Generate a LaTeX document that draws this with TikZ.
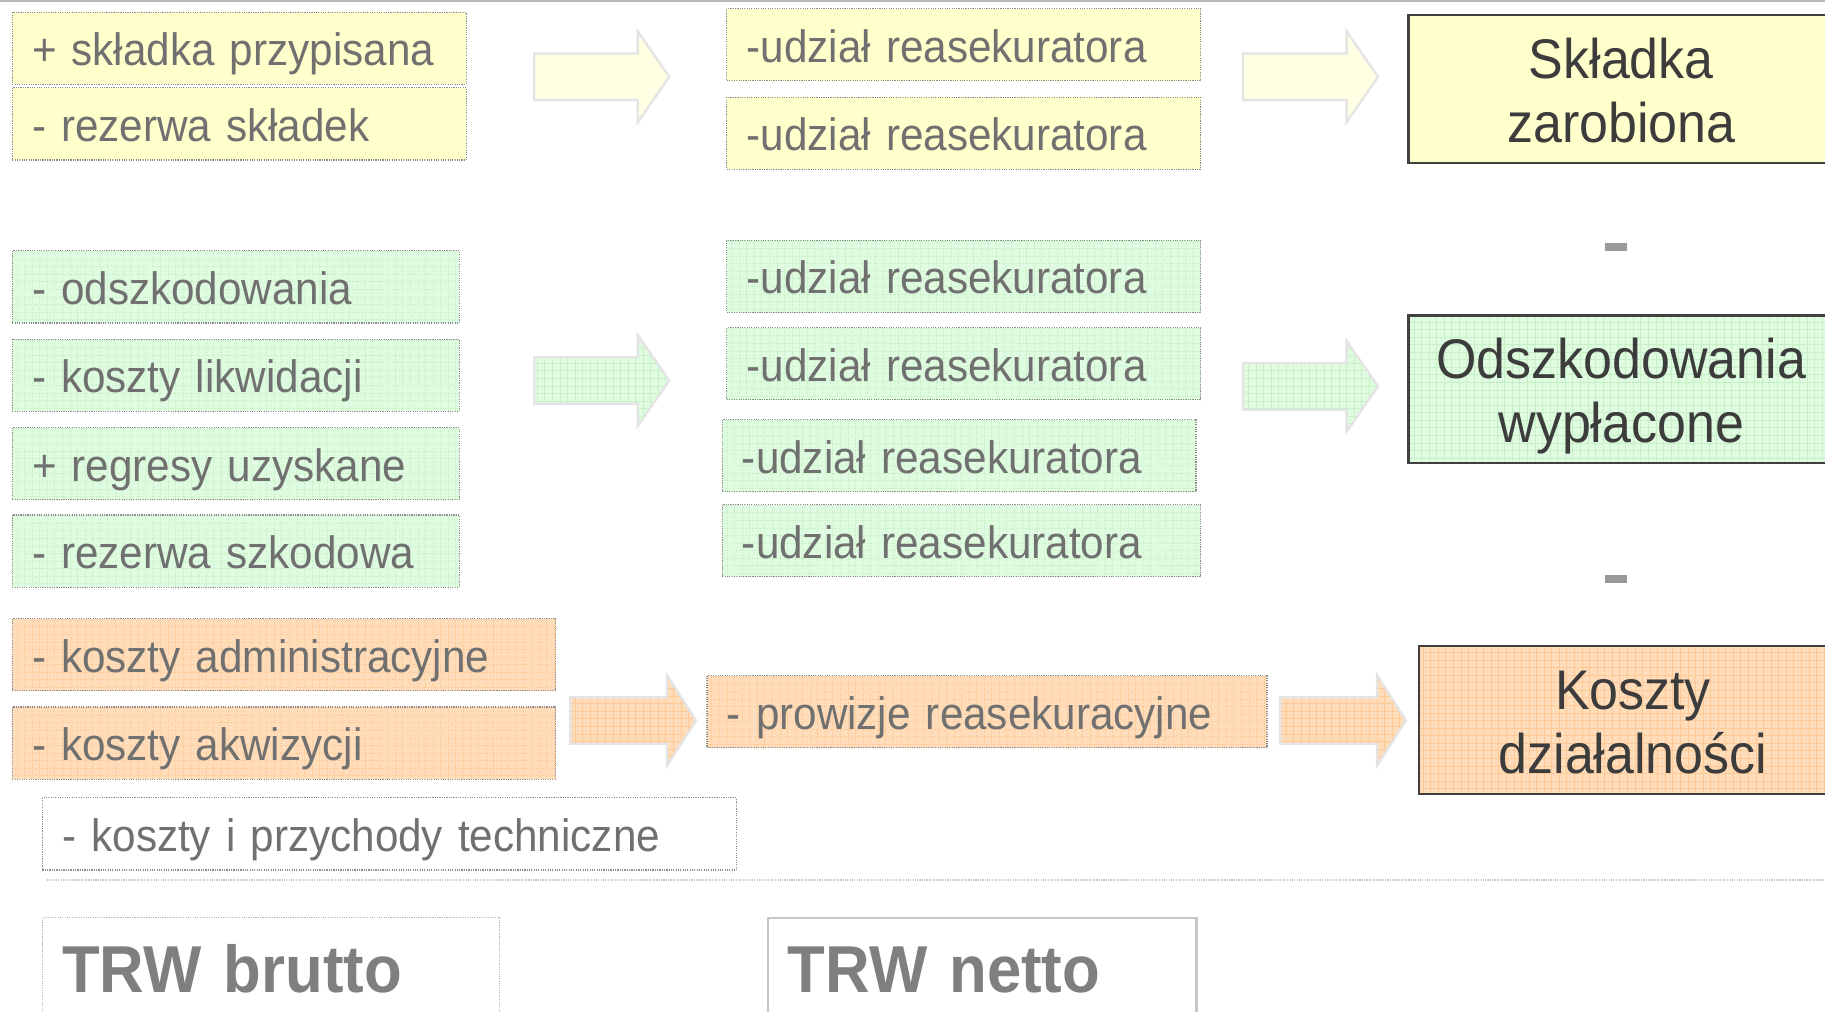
\documentclass[tikz,border=0pt]{standalone}
\usepackage{fontspec}
\setmainfont{Liberation Sans}[FakeStretch=0.93]
\definecolor{yel}{HTML}{FFFFCC}
\definecolor{yelarr}{HTML}{FFFFE3}
\definecolor{grn}{HTML}{E0FCE0}
\definecolor{grngrid}{HTML}{C8F0C8}
\definecolor{org}{HTML}{FFDDBB}
\definecolor{orggrid}{HTML}{FFC995}
\definecolor{dotc}{HTML}{8C8C8C}
\definecolor{txtc}{HTML}{707070}
\definecolor{bigtxt}{HTML}{3C3C3C}
\definecolor{bordc}{HTML}{404040}
\definecolor{arrline}{HTML}{E4E4E4}
\definecolor{minusc}{HTML}{999999}
\definecolor{trwc}{HTML}{7F7F7F}
\newcommand\blockarr[7]{\path[#1] (#2,#5-#6) -- (#3,#5-#6) -- (#3,#5-#7) -- (#4,#5) -- (#3,#5+#7) -- (#3,#5+#6) -- (#2,#5+#6) -- cycle;}
\tikzset{
  gridfill/.style={path picture={\draw[#1,line width=0.5pt] (path picture bounding box.south west) grid[step=6.5pt] (path picture bounding box.north east);}},
  item/.style={draw=dotc, dash pattern=on 1pt off 1pt, line width=1pt, anchor=north west,
    inner ysep=0pt, inner xsep=17pt, minimum height=62pt, align=left,
    font=\fontsize{39}{44}\selectfont, text=txtc, text height=34pt, text depth=4pt},
  yitem/.style={item, fill=yel},
  gitem/.style={item, fill=grn, gridfill=grngrid},
  oitem/.style={item, fill=org, gridfill=orggrid},
  bigbox/.style={draw=bordc, line width=2pt, anchor=north west, inner sep=0pt,
    minimum height=127pt, align=center, font=\fontsize{48}{55}\selectfont,
    text=bigtxt, text height=96pt, text depth=4pt},
  trwbox/.style={anchor=north west, inner ysep=0pt, inner xsep=17pt, minimum height=112pt,
    align=left, font=\fontsize{57}{60}\selectfont\bfseries, text=trwc,
    text height=46pt, text depth=30pt},
  yarr/.style={fill=yelarr, draw=arrline, line width=2pt},
  garr/.style={fill=grn, draw=arrline, line width=2pt, gridfill=grngrid},
  oarr/.style={fill=org, draw=arrline, line width=2pt, gridfill=orggrid},
  minus/.style={fill=minusc}
}
\begin{document}
\begin{tikzpicture}[x=1pt,y=-1pt]
\useasboundingbox (0,0) rectangle (1568,869);
\clip (0,0) rectangle (1568,869);
\fill[white] (0,0) rectangle (1568,869);
\draw[gray!55, line width=2.5pt] (0,0.5) -- (1568,0.5);

% yellow row
\node[yitem, text width=356pt] (b1) at (10,10) {+ składka przypisana};
\node[yitem, text width=356pt] (b2) at (10,75) {- rezerwa składek};
\blockarr{yarr}{459}{548}{575}{66}{20}{39}
\node[yitem, text width=373pt] (b3) at (624,7) {-udział reasekuratora};
\node[yitem, text width=373pt] (b4) at (624,83) {-udział reasekuratora};
\blockarr{yarr}{1068}{1157}{1184}{66}{20}{39}
\node[bigbox, fill=yel, minimum width=366pt] (s) at (1209,12) {Składka\\zarobiona};

\path[minus] (1379,209) rectangle (1398,216);

% green row
\node[gitem, text width=350pt] (g1) at (10,215) {- odszkodowania};
\node[gitem, text width=350pt] (g2) at (10,291) {- koszty likwidacji};
\node[gitem, text width=350pt] (g3) at (10,367) {+ regresy uzyskane};
\node[gitem, text width=350pt] (g4) at (10,442) {- rezerwa szkodowa};
\blockarr{garr}{459}{548}{575}{327}{20}{39}
\node[gitem, text width=373pt] (g5) at (624,206) {-udział reasekuratora};
\node[gitem, text width=373pt] (g6) at (624,281) {-udział reasekuratora};
\node[gitem, text width=373pt] (g7) at (620,360) {-udział reasekuratora};
\node[gitem, text width=377pt] (g8) at (620,433) {-udział reasekuratora};
\blockarr{garr}{1068}{1157}{1184}{332}{20}{39}
\node[bigbox, fill=grn, gridfill=grngrid, minimum width=366pt] (o) at (1209,270) {Odszkodowania\\wypłacone};

\path[minus] (1379,494) rectangle (1398,501);

% orange row
\node[oitem, text width=433pt] (o1) at (10,531) {- koszty administracyjne};
\node[oitem, text width=433pt] (o2) at (10,607) {- koszty akwizycji};
\blockarr{oarr}{490}{573}{598}{619}{20}{39}
\node[oitem, text width=447pt] (o3) at (607,580) {- prowizje reasekuracyjne};
\blockarr{oarr}{1100}{1183}{1208}{619}{20}{39}
\node[bigbox, fill=org, gridfill=orggrid, minimum width=368pt] (k) at (1218,554) {Koszty\\działalności};

% white row
\node[item, fill=white, text width=562pt] (w) at (36,685) {- koszty i przychody techniczne};
\coordinate (l1) at (40,756);
\coordinate (l2) at (1568,756);
\draw[gray!45, dash pattern=on 1pt off 1pt, line width=1pt] (l1) -- (l2);

% bottom labels
\node[trwbox, draw=gray!60, dash pattern=on 1pt off 1pt, line width=1pt, text width=359pt] (tb) at (36,788) {TRW brutto};
\node[trwbox, draw=gray!45, line width=2pt, text width=334pt] (tn) at (659,788) {TRW netto};
\end{tikzpicture}
\end{document}
